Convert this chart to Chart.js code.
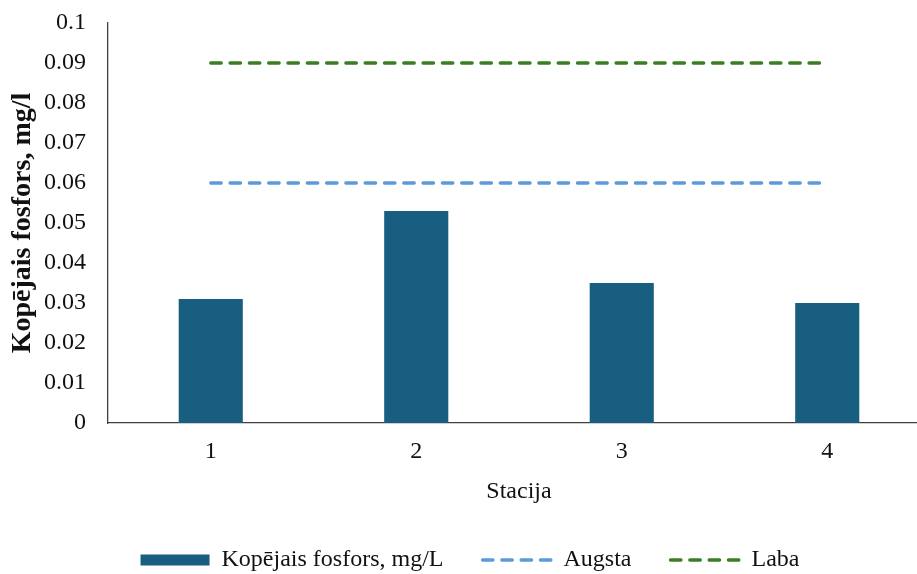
<!DOCTYPE html>
<html>
<head>
<meta charset="utf-8">
<script src="https://cdn.jsdelivr.net/npm/chart.js@4.4.1/dist/chart.umd.min.js"></script>
<style>
  html, body { margin: 0; padding: 0; overflow: hidden; background: #ffffff; }
  canvas { display: block; }
</style>
</head>
<body>
<canvas id="chart" width="930" height="574"></canvas>
<script>
// Stations and measured total phosphorus (mg/L)
const stations = ['1', '2', '3', '4'];
const totalPhosphorus = [0.031, 0.053, 0.035, 0.030];
// Quality class boundaries
const augsta = [0.06, 0.06, 0.06, 0.06];
const laba = [0.09, 0.09, 0.09, 0.09];
const yTickLabels = ['0', '0.01', '0.02', '0.03', '0.04', '0.05', '0.06', '0.07', '0.08', '0.09', '0.1'];

const FONT = "'Liberation Serif', 'Times New Roman', serif";
const TEXT = '#111111';
const BAR = '#175E80';
const BLUE = '#5B9BD9';
const GREEN = '#3B7D23';

new Chart(document.getElementById('chart'), {
  type: 'bar',
  data: {
    labels: stations,
    datasets: [
      {
        label: 'Kopējais fosfors, mg/L',
        data: totalPhosphorus,
        backgroundColor: BAR,
        borderWidth: 0,
        barPercentage: 0.312,
        categoryPercentage: 1
      },
      {
        type: 'line',
        label: 'Augsta',
        data: augsta,
        borderColor: BLUE,
        backgroundColor: BLUE,
        borderWidth: 3.3,
        borderDash: [10.5, 8.8],
        borderCapStyle: 'round',
        pointRadius: 0,
        fill: false
      },
      {
        type: 'line',
        label: 'Laba',
        data: laba,
        borderColor: GREEN,
        backgroundColor: GREEN,
        borderWidth: 3.3,
        borderDash: [10.5, 8.8],
        borderCapStyle: 'round',
        pointRadius: 0,
        fill: false
      }
    ]
  },
  options: {
    responsive: false,
    animation: false,
    devicePixelRatio: 1,
    layout: { padding: { top: 23, left: 10, right: 0, bottom: -8 } },
    plugins: {
      tooltip: { enabled: false },
      legend: {
        position: 'bottom',
        labels: {
          font: { family: FONT, size: 24 },
          color: TEXT,
          usePointStyle: true,
          pointStyleWidth: 69,
          boxHeight: 11,
          padding: 39,
          generateLabels(chart) {
            const items = Chart.defaults.plugins.legend.labels.generateLabels(chart);
            items.sort((a, b) => a.datasetIndex - b.datasetIndex);
            return items.map((item) => {
              const ds = chart.data.datasets[item.datasetIndex];
              if (item.datasetIndex === 0) {
                item.pointStyle = 'rect';
                item.fillStyle = ds.backgroundColor;
                item.lineWidth = 0;
              } else {
                item.pointStyle = 'line';
                item.strokeStyle = ds.borderColor;
                item.lineWidth = ds.borderWidth;
                item.lineDash = ds.borderDash;
                item.lineCap = 'round';
              }
              return item;
            });
          }
        }
      }
    },
    scales: {
      x: {
        grid: { display: false, drawTicks: false },
        border: { display: true, color: '#404040', width: 1.3 },
        ticks: { font: { family: FONT, size: 24 }, color: TEXT, padding: 14.6 },
        title: {
          display: true,
          text: 'Stacija',
          font: { family: FONT, size: 24 },
          color: TEXT,
          padding: { top: 0, bottom: 2.6 }
        },
        afterFit(scale) { scale.height = 86; }
      },
      y: {
        min: 0,
        max: 0.1,
        grid: { display: false, drawTicks: true, tickLength: 20 },
        border: { display: true, color: '#404040', width: 1.3 },
        ticks: {
          stepSize: 0.01,
          font: { family: FONT, size: 24 },
          color: TEXT,
          padding: 2,
          callback: (value, index) => yTickLabels[index]
        },
        title: {
          display: true,
          text: 'Kopējais fosfors, mg/l',
          font: { family: FONT, size: 28, weight: 'bold' },
          color: TEXT,
          padding: { top: -4, bottom: 0 }
        },
        afterFit(scale) { scale.width = 98; }
      }
    }
  }
});
</script>
</body>
</html>
